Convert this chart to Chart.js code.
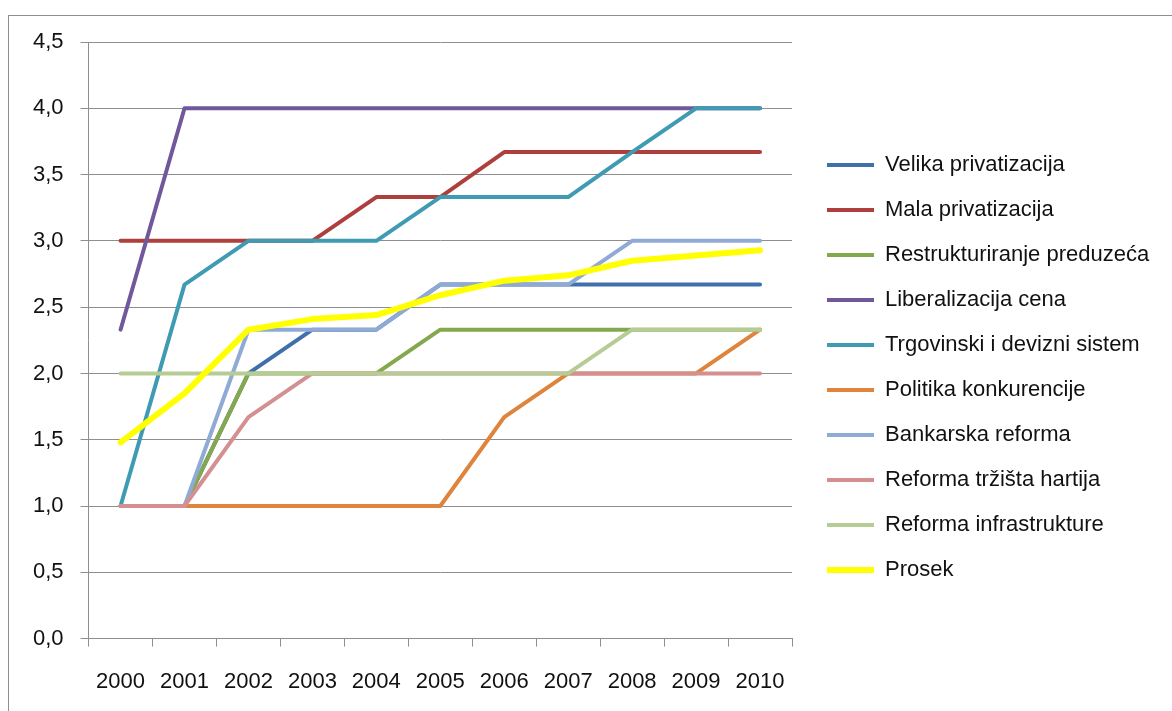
<!DOCTYPE html>
<html>
<head>
<meta charset="utf-8">
<script src="https://cdn.jsdelivr.net/npm/chart.js@4.4.0/dist/chart.umd.min.js"></script>
<style>
    html, body { margin: 0; padding: 0; background: #fff; overflow: hidden; }
    #frame { position: absolute; left: 8px; top: 15px; width: 1300px; height: 800px; border: 1px solid #8e8e8e; }
    #wrap { position: absolute; left: 0; top: 0; width: 1172px; height: 711px; }
</style>
</head>
<body>
<div id="frame"></div>
<div id="wrap"><canvas id="chart"></canvas></div>
<script>
// Years on the x axis
const years = ['2000', '2001', '2002', '2003', '2004', '2005', '2006', '2007', '2008', '2009', '2010'];

// Series values
const velikaPrivatizacija = [1, 1, 2, 2.33, 2.33, 2.67, 2.67, 2.67, 2.67, 2.67, 2.67];
const malaPrivatizacija = [3, 3, 3, 3, 3.33, 3.33, 3.67, 3.67, 3.67, 3.67, 3.67];
const restrukturiranje = [1, 1, 2, 2, 2, 2.33, 2.33, 2.33, 2.33, 2.33, 2.33];
const liberalizacijaCena = [2.33, 4, 4, 4, 4, 4, 4, 4, 4, 4, 4];
const trgovinskiSistem = [1, 2.67, 3, 3, 3, 3.33, 3.33, 3.33, 3.67, 4, 4];
const politikaKonkurencije = [1, 1, 1, 1, 1, 1, 1.67, 2, 2, 2, 2.33];
const bankarskaReforma = [1, 1, 2.33, 2.33, 2.33, 2.67, 2.67, 2.67, 3, 3, 3];
const reformaTrzistaHartija = [1, 1, 1.67, 2, 2, 2, 2, 2, 2, 2, 2];
const reformaInfrastrukture = [2, 2, 2, 2, 2, 2, 2, 2, 2.33, 2.33, 2.33];
const prosek = [1.48, 1.85, 2.33, 2.41, 2.44, 2.59, 2.70, 2.74, 2.85, 2.89, 2.93];

const seriesNames = [
    'Velika privatizacija', 'Mala privatizacija', 'Restrukturiranje preduzeća',
    'Liberalizacija cena', 'Trgovinski i devizni sistem', 'Politika konkurencije',
    'Bankarska reforma', 'Reforma tržišta hartija', 'Reforma infrastrukture', 'Prosek'
];
const seriesValues = [
    velikaPrivatizacija, malaPrivatizacija, restrukturiranje, liberalizacijaCena,
    trgovinskiSistem, politikaKonkurencije, bankarskaReforma, reformaTrzistaHartija,
    reformaInfrastrukture, prosek
];
const seriesColors = [
    '#4070ab', '#ad403d', '#84a84c', '#71589a', '#3f9bb3',
    '#de843c', '#90aad6', '#d49090', '#b6cc95', '#ffff00'
];

const font = "'Liberation Sans', Arial, sans-serif";

// Later series are drawn on top, like in the original
const datasets = seriesNames.map((name, i) => ({
    label: name,
    data: seriesValues[i],
    borderColor: seriesColors[i],
    backgroundColor: seriesColors[i],
    borderWidth: i === 9 ? 6 : 4,
    pointRadius: 0,
    pointHoverRadius: 0,
    borderCapStyle: 'round',
    borderJoinStyle: 'round',
    tension: 0,
    order: seriesNames.length - i
}));

// The default layout caps a side legend at a quarter of the width; give it room,
// and nudge it so the plot and the legend sit where they do in the original.
const legendPlace = {
    id: 'legendPlace',
    beforeInit(chart) {
        const fit = chart.legend.fit;
        chart.legend.fit = function () {
            fit.call(this);
            this.width = 370;
        };
    },
    afterLayout(chart) {
        const lg = chart.legend;
        lg.left += 12; lg.right += 12;
        lg.top -= 12; lg.bottom -= 12;
    }
};

new Chart(document.getElementById('chart'), {
    type: 'line',
    data: { labels: years, datasets: datasets },
    plugins: [legendPlace],
    options: {
        responsive: true,
        maintainAspectRatio: false,
        animation: false,
        layout: { padding: { left: 16, top: 42, right: 10, bottom: -6 } },
        plugins: {
            tooltip: { enabled: false },
            legend: {
                position: 'right',
                labels: {
                    usePointStyle: true,
                    pointStyle: 'line',
                    pointStyleWidth: 47,
                    padding: 23,
                    color: '#111',
                    font: { family: font, size: 22 },
                    sort: (a, b) => a.datasetIndex - b.datasetIndex
                }
            }
        },
        scales: {
            x: {
                offset: true,
                grid: { display: true, drawOnChartArea: false, offset: true, color: '#8e8e8e', tickLength: 8 },
                border: { color: '#8e8e8e', width: 1 },
                ticks: { color: '#111', padding: 22, maxRotation: 0, font: { family: font, size: 22 } }
            },
            y: {
                min: 0,
                max: 4.5,
                grid: { color: '#8e8e8e', tickLength: 8 },
                border: { color: '#8e8e8e', width: 1 },
                ticks: {
                    stepSize: 0.5,
                    color: '#111',
                    padding: 17,
                    font: { family: font, size: 22 },
                    callback: v => v.toFixed(1).replace('.', ',')
                }
            }
        }
    }
});
</script>
</body>
</html>
